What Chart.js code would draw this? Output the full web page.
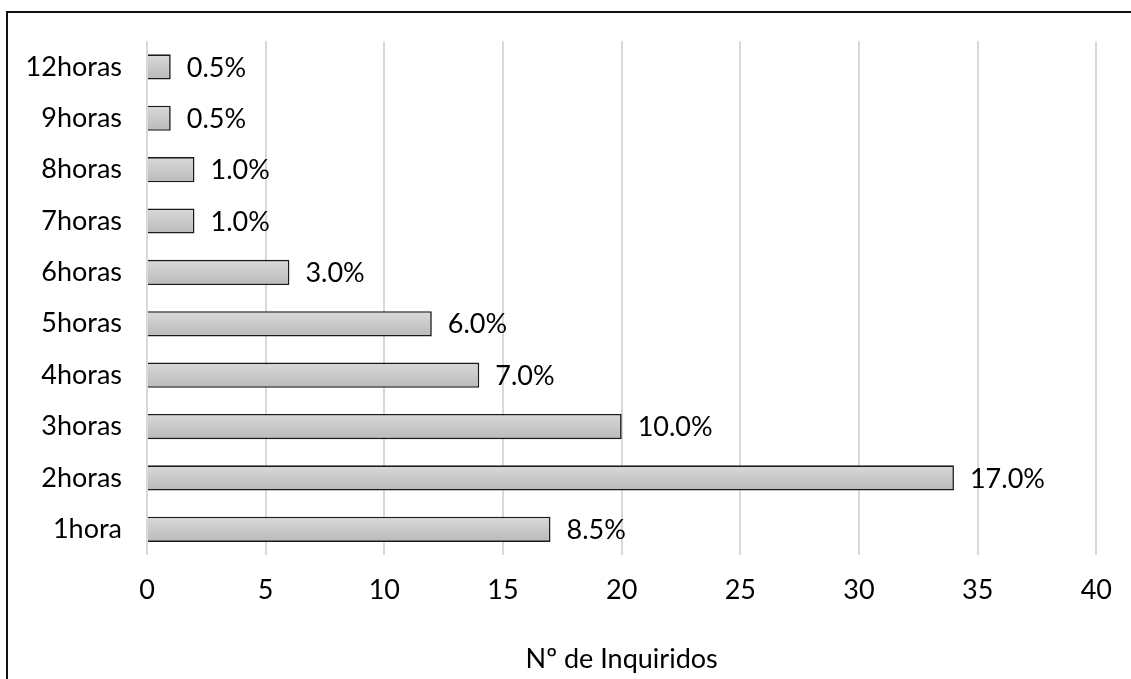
<!DOCTYPE html>
<html>
<head>
<meta charset="utf-8">
<title>Horas</title>
<script src="https://cdn.jsdelivr.net/npm/chart.js@4.4.1/dist/chart.umd.min.js"></script>
<style>
  html, body { margin: 0; padding: 0; background: #ffffff; }
  #wrap { width: 1131px; height: 679px; position: relative; }
</style>
</head>
<body>
<div id="wrap"><canvas id="chart" width="1131" height="679"></canvas></div>
<script>
// Categories (bottom to top) and number of respondents per category
const categories = ['1hora', '2horas', '3horas', '4horas', '5horas', '6horas', '7horas', '8horas', '9horas', '12horas'];
const respondents = [17, 34, 20, 14, 12, 6, 2, 2, 1, 1];
// Total surveyed, used for the percentage labels
const totalSurveyed = 200;
// Value axis ticks
const xTicks = [0, 5, 10, 15, 20, 25, 30, 35, 40];

const FONT = 'Lato, "Open Sans", sans-serif';
const FONT_SIZE = 27;

// Outer frame of the chart
const framePlugin = {
  id: 'frame',
  beforeDraw(chart) {
    const ctx = chart.ctx;
    ctx.save();
    ctx.fillStyle = '#ffffff';
    ctx.fillRect(0, 0, chart.width, chart.height);
    ctx.strokeStyle = '#111111';
    ctx.lineWidth = 2;
    ctx.strokeRect(7, 12, chart.width + 50, chart.height + 50);
    ctx.restore();
  }
};

// Percentage labels at the end of each bar
const barLabels = {
  id: 'barLabels',
  afterDatasetsDraw(chart) {
    const ctx = chart.ctx;
    const meta = chart.getDatasetMeta(0);
    ctx.save();
    ctx.font = FONT_SIZE + 'px ' + FONT;
    ctx.fillStyle = '#000000';
    ctx.textAlign = 'left';
    ctx.textBaseline = 'middle';
    meta.data.forEach((bar, i) => {
      const pct = (respondents[i] / totalSurveyed * 100).toFixed(1) + '%';
      ctx.fillText(pct, bar.x + 16, bar.y + 1);
    });
    ctx.restore();
  }
};

function barGradient(context) {
  const chart = context.chart;
  const yScale = chart.scales.y;
  if (!yScale || context.dataIndex === undefined) return '#cccccc';
  const cy = yScale.getPixelForValue(context.dataIndex);
  const half = (yScale.height / categories.length) * 0.49 / 2;
  if (!isFinite(cy) || !isFinite(half) || half <= 0) return '#cccccc';
  const g = chart.ctx.createLinearGradient(0, cy - half, 0, cy + half);
  g.addColorStop(0, '#d9d9d9');
  g.addColorStop(1, '#bababa');
  return g;
}

new Chart(document.getElementById('chart'), {
  type: 'bar',
  data: {
    labels: categories,
    datasets: [{
      data: respondents,
      backgroundColor: barGradient,
      borderColor: '#1a1a1a',
      borderWidth: 1.6,
      categoryPercentage: 1.0,
      barPercentage: 0.49
    }]
  },
  options: {
    indexAxis: 'y',
    responsive: false,
    animation: false,
    devicePixelRatio: 1,
    layout: { padding: { top: 41, right: 34, left: 0, bottom: 0 } },
    plugins: {
      legend: { display: false },
      tooltip: { enabled: false }
    },
    scales: {
      x: {
        min: 0,
        max: 40,
        afterFit(scale) { scale.height = 124; },
        afterBuildTicks(scale) { scale.ticks = xTicks.map(v => ({ value: v })); },
        grid: { color: '#d9d9d9', lineWidth: 2, drawTicks: false },
        border: { display: false },
        ticks: {
          padding: 19,
          color: '#000000',
          font: { family: FONT, size: FONT_SIZE }
        },
        title: {
          display: true,
          text: 'Nº de Inquiridos',
          color: '#000000',
          font: { family: FONT, size: FONT_SIZE },
          padding: { top: 0, bottom: 4 }
        }
      },
      y: {
        reverse: true,
        afterFit(scale) { scale.width = 147; },
        grid: { display: false, drawTicks: false },
        border: { display: false },
        ticks: {
          padding: 25,
          color: '#000000',
          font: { family: FONT, size: FONT_SIZE }
        }
      }
    }
  },
  plugins: [framePlugin, barLabels]
});
</script>
</body>
</html>
